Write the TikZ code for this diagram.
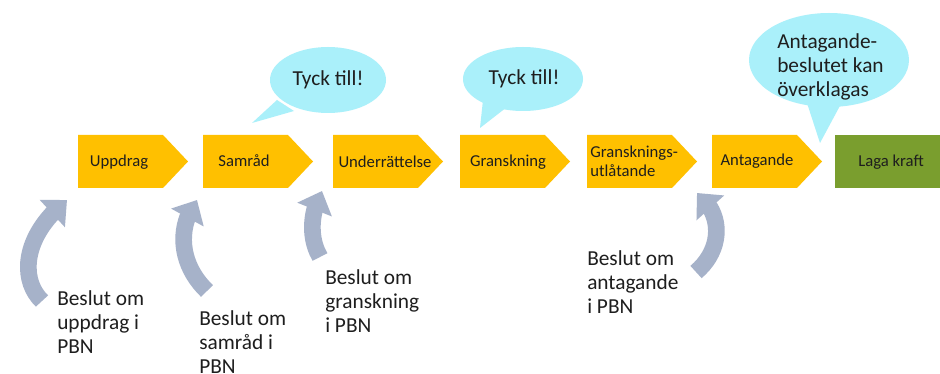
\documentclass[tikz,border=0pt]{standalone}
\usepackage{fontspec}
\setmainfont{Carlito}
\usetikzlibrary{arrows.meta,shapes.geometric,bending}
\definecolor{yel}{HTML}{FFC000}
\definecolor{grn}{RGB}{122,158,46}
\definecolor{bub}{RGB}{170,240,250}
\definecolor{agray}{RGB}{166,178,201}
\definecolor{txt}{HTML}{1E1E1E}
\begin{document}
\begin{tikzpicture}[x=0.75pt,y=-0.75pt,
  chev/.pic={\fill[yel] (0,0) -- (85,0) -- (110,26.5) -- (85,53) -- (0,53) -- cycle;},
  ctext/.style={font=\fontsize{12.5}{14}\selectfont, text=txt, inner sep=0pt},
  lbl/.style={font=\fontsize{16}{18}\selectfont, text=txt, inner sep=0pt, align=left, anchor=north west},
  btext/.style={font=\fontsize{16}{18}\selectfont, text=txt, inner sep=0pt},
  carrow/.style={draw=agray, line width=12.5pt, -{Triangle[length=15pt,width=27pt,flex]}}
]
\useasboundingbox (0,0) rectangle (940,374);
\clip (0,0) rectangle (940,374);
\fill[white] (0,0) rectangle (940,374);

% speech bubbles
\fill[bub] (328,80) ellipse [x radius=58, y radius=33];
\fill[bub] (277,100) -- (252,123) -- (294,111) -- cycle;
\node[btext] (t1) at (328,80) {Tyck till!};

\fill[bub] (523,79) ellipse [x radius=60, y radius=32];
\fill[bub] (483,100) -- (480,128) -- (507,107) -- cycle;
\node[btext] (t2) at (524,79) {Tyck till!};

\fill[bub] (829,60) ellipse [x radius=80, y radius=47];
\fill[bub] (806,100) -- (820,143) -- (842,102) -- cycle;
\node[lbl] (t3) at (777,33) {Antagande-\\beslutet kan\\överklagas};

% chevrons
\pic at (78,135) {chev};
\pic at (203,135) {chev};
\pic at (333,135) {chev};
\pic at (460,135) {chev};
\pic at (587,135) {chev};
\pic at (712,135) {chev};
\fill[grn] (835,135) rectangle (945,188);

\node[ctext] (c1) at (119,162) {Uppdrag};
\node[ctext] (c2) at (244,161) {Samråd};
\node[ctext] (c3) at (385,162) {Underrättelse};
\node[ctext] (c4) at (508,162) {Granskning};
\node[ctext, align=left, anchor=west, font=\fontsize{12.5}{14}\selectfont] (c5) at (590,161) {Gransknings-\\utlåtande};
\node[ctext] (c6) at (757,161) {Antagande};
\node[ctext] (c7) at (891,162) {Laga kraft};

% curved arrows
\coordinate (a1s) at (42,301); \coordinate (a1e) at (67,200);
\coordinate (a2s) at (207,291); \coordinate (a2e) at (197,200);
\coordinate (a3s) at (320,257); \coordinate (a3e) at (322,191);
\coordinate (a4s) at (696,272); \coordinate (a4e) at (697,193);
\draw[carrow] (a1s) .. controls (20,280) and (22,236) .. (a1e);
\draw[carrow] (a2s) .. controls (180,265) and (176,228) .. (a2e);
\draw[carrow] (a3s) .. controls (310,240) and (309,215) .. (a3e);
\draw[carrow] (a4s) .. controls (722,250) and (724,214) .. (a4e);

% labels
\node[lbl] (l1) at (57,290) {Beslut om\\uppdrag i\\PBN};
\node[lbl] (l2) at (199,310) {Beslut om\\samråd i\\PBN};
\node[lbl] (l3) at (325,269) {Beslut om\\granskning\\i PBN};
\node[lbl] (l4) at (587,250) {Beslut om\\antagande\\i PBN};
\end{tikzpicture}
\end{document}
